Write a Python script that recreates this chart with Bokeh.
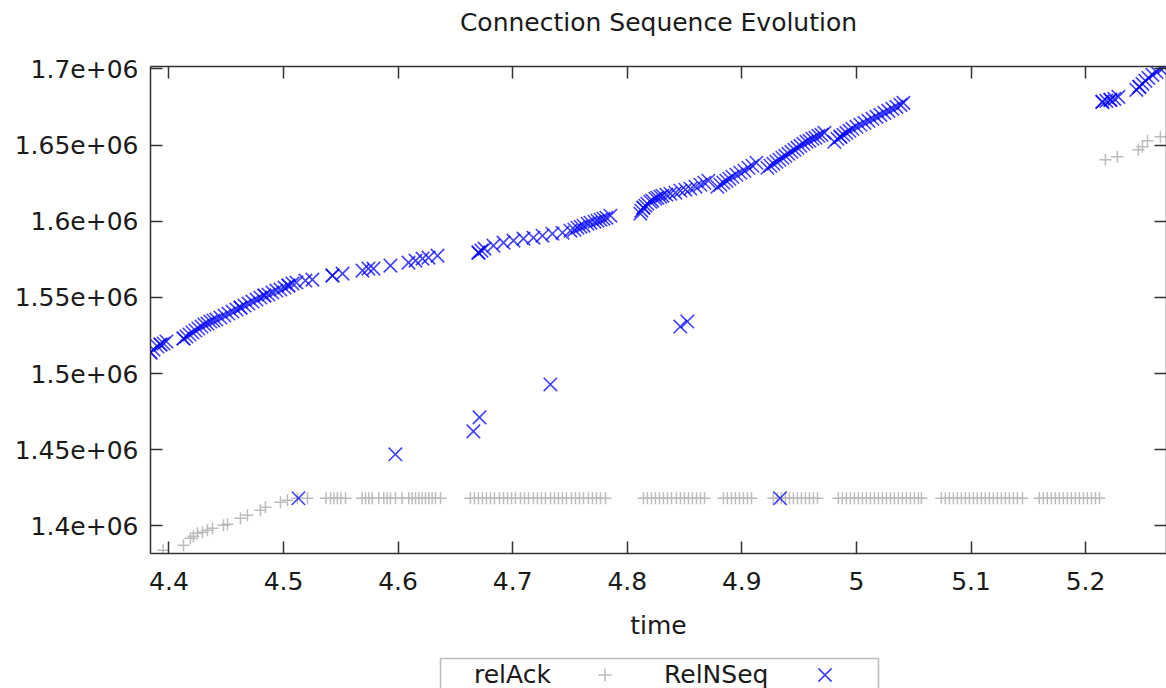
from bokeh.plotting import figure
from bokeh.layouts import column
from bokeh.models import (Range1d, LinearAxis, FixedTicker, CustomJSTickFormatter,
                          Legend, LegendItem, BoxAnnotation)
from bokeh.embed import file_html
from bokeh.resources import INLINE

# ---------------- data ----------------
# RelNSeq (blue x)
seq_time = [
    4.3839, 4.3839, 4.3865, 4.3900, 4.3926, 4.3926, 4.3953, 4.3978,
    4.4127, 4.4127, 4.4153, 4.4179, 4.4205, 4.4231, 4.4257, 4.4284, 4.4310, 4.4336,
    4.4362, 4.4388, 4.4414, 4.4449, 4.4484, 4.4519, 4.4554, 4.4589, 4.4624, 4.4624,
    4.4659, 4.4694, 4.4729, 4.4764, 4.4798, 4.4833, 4.4833, 4.4868, 4.4903, 4.4938,
    4.4973, 4.5008, 4.5043, 4.5043, 4.5078, 4.5113,
    4.5130, 4.5191, 4.5252,
    4.5427, 4.5427, 4.5515, 4.5689, 4.5741, 4.5785, 4.5933, 4.5976,
    4.6091, 4.6152, 4.6213, 4.6265, 4.6344,
    4.6657, 4.6701, 4.6701, 4.6710, 4.6727, 4.6754, 4.6832, 4.6920, 4.7007, 4.7094,
    4.7181, 4.7260, 4.7329, 4.7347, 4.7435, 4.7504, 4.7539, 4.7565, 4.7592, 4.7618,
    4.7653, 4.7679, 4.7714, 4.7740, 4.7766, 4.7792, 4.7818, 4.7853,
    4.8114, 4.8123, 4.8140, 4.8140, 4.8158, 4.8175, 4.8202, 4.8219, 4.8245, 4.8263,
    4.8289, 4.8307, 4.8341, 4.8376, 4.8420, 4.8463, 4.8464, 4.8507, 4.8524, 4.8551,
    4.8595, 4.8638, 4.8673, 4.8708,
    4.8786, 4.8813, 4.8839, 4.8865, 4.8891, 4.8917, 4.8952, 4.8987, 4.9022, 4.9057,
    4.9092, 4.9127,
    4.9223, 4.9249, 4.9275, 4.9302, 4.9328, 4.9333, 4.9354, 4.9380, 4.9406, 4.9432,
    4.9459, 4.9485, 4.9511, 4.9537, 4.9564, 4.9590, 4.9616, 4.9642, 4.9668, 4.9695,
    4.9721,
    4.9807, 4.9834, 4.9860, 4.9860, 4.9886, 4.9912, 4.9939, 4.9965, 5.0000, 5.0035,
    5.0070, 5.0105, 5.0140, 5.0175, 5.0209, 5.0244, 5.0279, 5.0314, 5.0349, 5.0384,
    5.0410,
    5.2146, 5.2146, 5.2181, 5.2216, 5.2216, 5.2251, 5.2286,
    5.2443, 5.2469, 5.2469, 5.2496, 5.2522, 5.2548, 5.2583, 5.2618, 5.2653, 5.2688,
]
seq_value = [
    1513860, 1513860, 1515830, 1517800, 1519110, 1519110, 1519760, 1521070,
    1523040, 1523040, 1524350, 1525660, 1526970, 1528280, 1529590, 1530900, 1532210, 1532870,
    1534180, 1534840, 1535490, 1536800, 1538110, 1539420, 1540740, 1542050, 1543360, 1543360,
    1544670, 1545980, 1547290, 1548600, 1549910, 1551220, 1551220, 1551880, 1553190, 1554500,
    1555160, 1556470, 1557780, 1557780, 1559090, 1559750,
    1418160, 1561060, 1561710,
    1564340, 1564340, 1565650, 1567610, 1568920, 1568920, 1570890, 1447000,
    1572860, 1574170, 1575480, 1576130, 1577450,
    1462080, 1579410, 1579410, 1471250, 1580720, 1582030, 1584000, 1585970, 1587280, 1588590,
    1589240, 1590550, 1492880, 1591860, 1592520, 1593830, 1594480, 1595790, 1596450, 1597110,
    1598420, 1599070, 1599730, 1600390, 1601040, 1601700, 1602350, 1603660,
    1604970, 1606940, 1608910, 1608910, 1610220, 1611530, 1612840, 1613500, 1614810, 1615460,
    1616120, 1616780, 1617430, 1618090, 1618740, 1530900, 1620050, 1620710, 1534180, 1621370,
    1622680, 1623990, 1625300, 1626610,
    1622670, 1623990, 1625300, 1626610, 1627920, 1629230, 1630540, 1631850, 1633160, 1635130,
    1636440, 1638410,
    1635130, 1636440, 1637750, 1639060, 1640370, 1418160, 1641680, 1642990, 1644300, 1645610,
    1646920, 1648230, 1649540, 1650850, 1652160, 1652820, 1654130, 1654780, 1656090, 1656750,
    1658060,
    1652170, 1654140, 1655450, 1655450, 1656760, 1658070, 1659380, 1660690, 1662000, 1663310,
    1664620, 1665930, 1667240, 1668550, 1669860, 1671170, 1672480, 1673790, 1675100, 1676410,
    1677730,
    1678390, 1678390, 1679050, 1679700, 1679700, 1680360, 1681670,
    1686260, 1688230, 1688230, 1690190, 1692160, 1694130, 1696090, 1698060, 1700030, 1701340,
]

# relAck (grey +)
ack_rise_time = [4.3949, 4.4127, 4.4188, 4.4214, 4.4249, 4.4292, 4.4336, 4.4380, 4.4476,
                 4.4511, 4.4624, 4.4685, 4.4798, 4.4842, 4.4973, 4.5034, 4.5121, 4.5209]
ack_rise_value = [1384070, 1387350, 1391940, 1393250, 1395220, 1395870, 1397180, 1398490,
                  1400460, 1401110, 1405040, 1407010, 1410290, 1412260, 1415540, 1416850,
                  1418160, 1418160]
ack_flat_value = 1418160
ack_flat_time = [
    4.5370, 4.5410, 4.5440, 4.5470, 4.5500, 4.5541,
    4.5686, 4.5716, 4.5744, 4.5774, 4.5831, 4.5875, 4.5904, 4.5933, 4.5977, 4.6035,
    4.6093, 4.6123, 4.6152, 4.6181, 4.6210, 4.6239, 4.6268, 4.6297, 4.6326, 4.6370,
    4.6631, 4.6666, 4.6701, 4.6736, 4.6771, 4.6806, 4.6841, 4.6885, 4.6920, 4.6955,
    4.6990, 4.7024, 4.7068, 4.7103, 4.7138, 4.7181, 4.7216, 4.7251, 4.7286, 4.7330,
    4.7365, 4.7399, 4.7434, 4.7469, 4.7513, 4.7548, 4.7583, 4.7618, 4.7661, 4.7696,
    4.7731, 4.7766, 4.7810,
    4.8141, 4.8176, 4.8211, 4.8246, 4.8281, 4.8316, 4.8351, 4.8386, 4.8429, 4.8464,
    4.8499, 4.8534, 4.8569, 4.8604, 4.8639, 4.8674,
    4.8839, 4.8874, 4.8909, 4.8944, 4.8979, 4.9014, 4.9049, 4.9084,
    4.9275, 4.9310, 4.9345, 4.9380, 4.9415, 4.9450, 4.9485, 4.9520, 4.9555, 4.9590,
    4.9625, 4.9660,
    4.9842, 4.9877, 4.9912, 4.9947, 4.9982, 5.0017, 5.0052, 5.0087, 5.0122, 5.0157,
    5.0192, 5.0227, 5.0262, 5.0297, 5.0331, 5.0366, 5.0401, 5.0436, 5.0471, 5.0506,
    5.0541, 5.0567,
    5.0741, 5.0776, 5.0811, 5.0846, 5.0881, 5.0916, 5.0951, 5.0986, 5.1021, 5.1055,
    5.1090, 5.1125, 5.1160, 5.1195, 5.1230, 5.1265, 5.1300, 5.1335, 5.1370, 5.1405,
    5.1449,
    5.1596, 5.1631, 5.1666, 5.1701, 5.1736, 5.1771, 5.1806, 5.1841, 5.1876, 5.1911,
    5.1946, 5.1981, 5.2016, 5.2051, 5.2086, 5.2121,
]
ack_jump_time = [5.2173, 5.2277, 5.2461, 5.2496, 5.2540, 5.2653]
ack_jump_value = [1640370, 1642340, 1646930, 1648890, 1652830, 1655450]

ack_time = ack_rise_time + ack_flat_time + ack_jump_time
ack_value = ack_rise_value + [ack_flat_value] * len(ack_flat_time) + ack_jump_value

x_ticks = [4.4, 4.5, 4.6, 4.7, 4.8, 4.9, 5.0, 5.1, 5.2]
y_ticks = [1400000, 1450000, 1500000, 1550000, 1600000, 1650000, 1700000]

title_text = "Connection Sequence Evolution"
x_label = "time"
series_names = ["relAck", "RelNSeq"]

# ---------------- styles ----------------
FONT = "DejaVu Sans"
FS = "25px"
TXT = "#1a1a1a"
AX = "#333333"
ACK_COLOR = "#bcbcbc"
SEQ_COLOR = "#0000ff"

# ---------------- main figure ----------------
p = figure(width=1166, height=645, output_backend="svg", toolbar_location=None,
           x_range=Range1d(4.3839, 5.2706), y_range=Range1d(1381900, 1701600),
           min_border_left=150, min_border_right=0, min_border_top=66,
           min_border_bottom=92, x_axis_label=x_label)
p.background_fill_color = "white"
p.border_fill_color = "white"
p.outline_line_color = None
p.grid.visible = False

bottom_axis = p.below[0]
left_axis = p.left[0]
# mirrored top axis; it also carries the chart title (gnuplot-like placement)
top_axis = LinearAxis(axis_label=title_text)
right_axis = LinearAxis()
p.add_layout(top_axis, "above")
p.add_layout(right_axis, "right")

for ax in [bottom_axis, top_axis]:
    ax.ticker = FixedTicker(ticks=x_ticks, minor_ticks=[])
for ax in [left_axis, right_axis]:
    ax.ticker = FixedTicker(ticks=y_ticks, minor_ticks=[])
bottom_axis.formatter = CustomJSTickFormatter(
    code="return (Math.round(tick*10)/10).toString();")
left_axis.formatter = CustomJSTickFormatter(
    code="return (Math.round(tick/1e4)/100).toString() + 'e+06';")
top_axis.formatter = CustomJSTickFormatter(code="return '';")
right_axis.formatter = CustomJSTickFormatter(code="return '';")

for ax in [bottom_axis, left_axis, top_axis, right_axis]:
    ax.axis_line_color = AX
    ax.axis_line_width = 1.5
    ax.major_tick_line_color = AX
    ax.major_tick_line_width = 1.5
    ax.major_tick_in = 12
    ax.major_tick_out = 0
    ax.minor_tick_in = 0
    ax.minor_tick_out = 0
    ax.major_label_text_font = FONT
    ax.major_label_text_font_size = FS
    ax.major_label_text_color = TXT
    ax.axis_label_text_font = FONT
    ax.axis_label_text_font_size = FS
    ax.axis_label_text_font_style = "normal"
    ax.axis_label_text_color = TXT
for ax in [top_axis, right_axis]:
    ax.major_label_text_font_size = "0px"
    ax.major_label_standoff = 0

top_axis.axis_label_standoff = 30
bottom_axis.major_label_standoff = 18
left_axis.major_label_standoff = 12
bottom_axis.axis_label_standoff = 18

p.scatter(ack_time, ack_value, marker="cross", size=12,
          line_color=ACK_COLOR, line_width=1.5)
p.scatter(seq_time, seq_value, marker="x", size=19,
          line_color=SEQ_COLOR, line_alpha=0.75, line_width=1.6)

# ---------------- legend strip (gnuplot style: text, then sample) ----------------
# the strip's frame is aligned with the main frame (x from 150 to 1166 px)
leg = figure(width=1166, height=43, output_backend="svg", toolbar_location=None,
             x_range=Range1d(150, 1166), y_range=Range1d(0, 43),
             x_axis_location=None, y_axis_location=None, min_border=0)
leg.outline_line_color = None
leg.grid.visible = False
leg.background_fill_color = "white"
leg.border_fill_color = "white"

leg.add_layout(BoxAnnotation(left=440, right=878, top=30, bottom=-20,
                             fill_alpha=0, line_color="#222222", line_width=1.5))

nan = float("nan")
blank_r = leg.scatter(x=[nan], y=[nan], marker="x", size=1, line_alpha=0, fill_alpha=0)
ack_key = leg.scatter(x=[nan], y=[nan], marker="cross", size=12,
                      line_color=ACK_COLOR, line_width=1.5)
seq_key = leg.scatter(x=[nan], y=[nan], marker="x", size=19,
                      line_color=SEQ_COLOR, line_alpha=0.75, line_width=1.6)

common = dict(orientation="horizontal", label_width=0, label_height=20,
              label_standoff=0, padding=0, margin=0, border_line_color=None,
              background_fill_alpha=0.0, label_text_font=FONT,
              label_text_font_size=FS, label_text_color=TXT)
leg1 = Legend(items=[LegendItem(label=series_names[0], renderers=[blank_r]),
                     LegendItem(label="", renderers=[ack_key])],
              location=(291, -3), spacing=37, glyph_width=33, glyph_height=33,
              **common)
leg2 = Legend(items=[LegendItem(label=series_names[1], renderers=[blank_r]),
                     LegendItem(label="", renderers=[seq_key])],
              location=(467, -10), spacing=33, glyph_width=47, glyph_height=47,
              **common)
leg.add_layout(leg1)
leg.add_layout(leg2)

layout = column(p, leg, spacing=0)
open("out.html", "w").write(file_html(layout, INLINE))
